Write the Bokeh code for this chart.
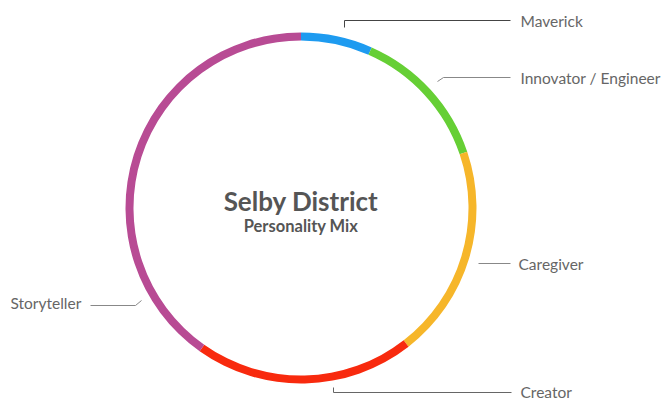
import numpy as np
from bokeh.plotting import figure
from bokeh.models import Range1d, ColumnDataSource
from bokeh.core.properties import value
from bokeh.embed import file_html
from bokeh.resources import INLINE

# Data
categories = ["Maverick", "Innovator / Engineer", "Caregiver", "Creator", "Storyteller"]
shares = [6.6, 13.2, 19.7, 20.3, 40.2]
colors = ["#1E9BF0", "#66CF35", "#F6B62A", "#F82A0E", "#B84B94"]

title_main = "Selby District"
title_sub = "Personality Mix"

# Layout (pixel coordinates, y measured from top)
W, H = 666, 400
cx, cy = 300.5, 207.5
r_in, r_out = 167.5, 175.5

frac = np.array(shares) / sum(shares)
cum = np.concatenate([[0], np.cumsum(frac)])
start = np.pi / 2 - cum[:-1] * 2 * np.pi
end = np.pi / 2 - cum[1:] * 2 * np.pi

src = ColumnDataSource(dict(cat=categories, start=start, end=end, color=colors))

p = figure(width=W, height=H, x_range=Range1d(0, W), y_range=Range1d(0, H),
           output_backend="svg", toolbar_location=None, min_border=0)
p.axis.visible = False
p.grid.visible = False
p.outline_line_color = None
p.background_fill_color = "white"
p.border_fill_color = "white"

p.annular_wedge(x=cx, y=H - cy, inner_radius=r_in, outer_radius=r_out,
                start_angle="start", end_angle="end", direction="clock",
                color="color", line_color=None, source=src)

# Leader lines (pixel layout, y from top), one per category
leader_xs = [[344, 344, 510], [437, 443, 510], [478, 510], [333, 333, 511], [90, 135, 141]]
leader_ys = [[27, 20, 20], [81, 77, 77], [263, 263], [387, 392, 392], [305, 305, 300]]
leader_colors = ["#444444", "#888888", "#888888", "#666666", "#888888"]
p.multi_line(xs=leader_xs, ys=[[H - y for y in ys] for ys in leader_ys],
             line_color=leader_colors, line_width=1)

# Labels
label_x = [520, 520, 518, 520, 10]
label_y = [20, 77, 263, 391, 302]
p.text(x=label_x, y=[H - y for y in label_y], text=categories,
       text_font=value("Lato"), text_font_size="15.5px", text_color="#666666",
       text_align="left", text_baseline="middle")

p.text(x=[cx], y=[H - 200], text=[title_main], text_font=value("Lato"),
       text_font_size="26px", text_font_style="bold", text_color="#555555",
       text_align="center", text_baseline="middle")
p.text(x=[cx], y=[H - 225], text=[title_sub], text_font=value("Lato"),
       text_font_size="16.5px", text_font_style="bold", text_color="#555555",
       text_align="center", text_baseline="middle")

open("out.html", "w").write(file_html(p, INLINE))
